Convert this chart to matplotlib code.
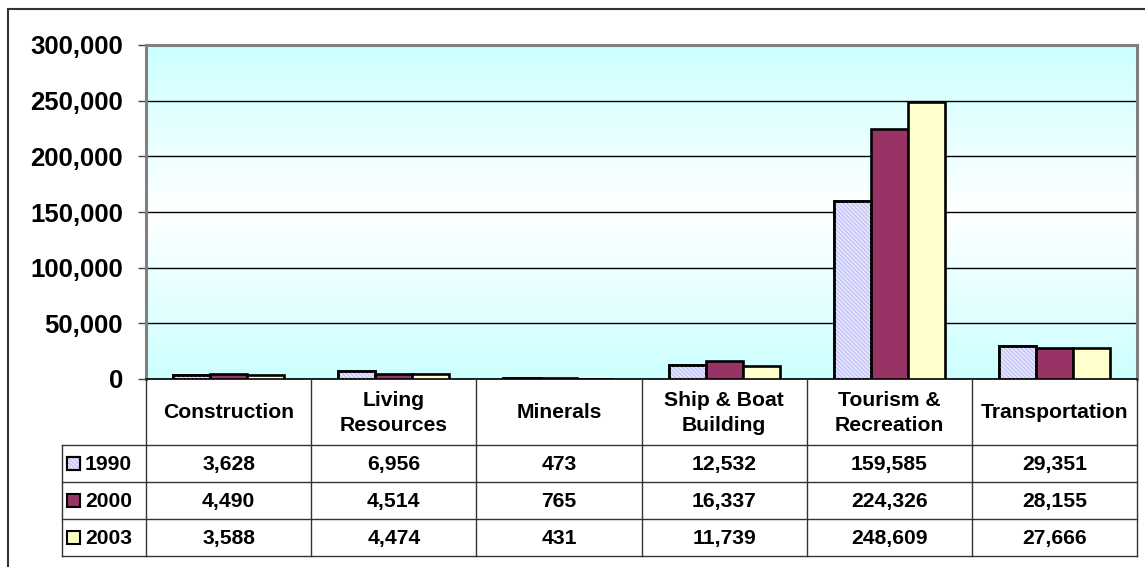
import numpy as np
import matplotlib
matplotlib.use("Agg")
import matplotlib.pyplot as plt
from matplotlib.patches import Rectangle
from matplotlib.lines import Line2D

plt.rcParams['font.family'] = ['Liberation Sans', 'DejaVu Sans']
plt.rcParams['font.weight'] = 'bold'
plt.rcParams['hatch.linewidth'] = 0.7

categories = ["Construction", "Living\nResources", "Minerals", "Ship & Boat\nBuilding",
              "Tourism &\nRecreation", "Transportation"]
series_names = ["1990", "2000", "2003"]
v1990 = [3628, 6956, 473, 12532, 159585, 29351]
v2000 = [4490, 4514, 765, 16337, 224326, 28155]
v2003 = [3588, 4474, 431, 11739, 248609, 27666]
yticks = [0, 50000, 100000, 150000, 200000, 250000, 300000]

series = [v1990, v2000, v2003]
face = ['#c8c8f8', '#993366', '#ffffcc']
hatches = ['\\' * 8, None, None]

W, H = 1145, 567
fig = plt.figure(figsize=(W / 100, H / 100), dpi=100)

# plot area in pixel coords
L, R, T, B = 146, 1137, 45, 379
ax = fig.add_axes([L / W, 1 - B / H, (R - L) / W, (B - T) / H])

# gradient background (cyan - white - cyan)
t = np.linspace(0, 1, 256)[:, None]
w = 1 - np.abs(2 * t - 1)
cyan = np.array([0.80, 1.0, 1.0])
img = cyan[None, None, :] + (1 - cyan[None, None, :]) * w[:, :, None]
img = np.repeat(img, 2, axis=1)
ax.imshow(img, extent=[0, 1, 0, 1], transform=ax.transAxes, aspect='auto',
          origin='lower', zorder=0)

n = len(categories)
x = np.arange(n)
bw = 0.224
for k, vals in enumerate(series):
    pos = x + (k - 1) * bw
    ax.bar(pos, vals, width=bw, color=face[k], edgecolor='black', linewidth=1.9,
           zorder=3)
    if hatches[k]:
        ax.bar(pos, vals, width=bw, color='none', edgecolor='#f4f4ff',
               hatch=hatches[k], linewidth=0, zorder=3.5)
        ax.bar(pos, vals, width=bw, color='none', edgecolor='black',
               linewidth=1.9, zorder=3.6)

ax.set_xlim(-0.5, n - 0.5)
ax.set_ylim(0, 300000)
ax.set_yticks(yticks)
ax.set_yticklabels([f"{v:,}" for v in yticks], fontsize=18.5, fontweight='bold')
ax.set_xticks([])
ax.yaxis.grid(True, color='black', linewidth=1.0, zorder=1)
ax.set_axisbelow(True)
ax.tick_params(axis='y', length=6, width=1, pad=10.5, color='#444444')
for s in ['left', 'top', 'right']:
    ax.spines[s].set_color('#808080')
    ax.spines[s].set_linewidth(2.2)
ax.spines['bottom'].set_color('black')
ax.spines['bottom'].set_linewidth(1.2)

# overlay axes for table and frame (pixel coordinates)
ov = fig.add_axes([0, 0, 1, 1], zorder=5)
ov.set_xlim(0, W)
ov.set_ylim(H, 0)
ov.axis('off')
ov.patch.set_alpha(0)

def line(x0, y0, x1, y1, c='black', lw=1.0):
    ov.add_line(Line2D([x0, x1], [y0, y1], color=c, linewidth=lw))

# outer frame
line(8, 9, 8, H + 5, c='#333333', lw=1.5)
line(8, 9, W + 5, 9, c='#333333', lw=1.5)

col_w = (R - L) / n
hdr_top, hdr_bot = B, 445
row_y = [445, 482, 519, 556]
leg_left = 62
fs = 15.2

# header cells
for i in range(n + 1):
    xx = L + i * col_w
    line(xx, hdr_top, xx, row_y[-1], c='#333333', lw=1.0)
for i, c in enumerate(categories):
    ov.text(L + (i + 0.5) * col_w, (hdr_top + hdr_bot) / 2 + 1, c, ha='center',
            va='center', fontsize=fs, fontweight='bold', linespacing=1.45)
# horizontal row lines
for yy in row_y:
    line(leg_left, yy, R, yy, c='#333333', lw=1.0)
line(leg_left, row_y[0], leg_left, row_y[-1], c='#333333', lw=1.0)

for k, vals in enumerate(series):
    yc = (row_y[k] + row_y[k + 1]) / 2
    # legend key
    ov.add_patch(Rectangle((67, yc - 6.5), 13, 13, facecolor=face[k],
                           edgecolor='black', linewidth=1.5))
    if hatches[k]:
        ov.add_patch(Rectangle((67, yc - 6.5), 13, 13, facecolor='none',
                               edgecolor='#f4f4ff', hatch=hatches[k], linewidth=0))
        ov.add_patch(Rectangle((67, yc - 6.5), 13, 13, facecolor='none',
                               edgecolor='black', linewidth=1.5))
    ov.text(85, yc + 1, series_names[k], ha='left', va='center', fontsize=fs,
            fontweight='bold')
    for i, v in enumerate(vals):
        ov.text(L + (i + 0.5) * col_w, yc + 1, f"{v:,}", ha='center', va='center',
                fontsize=fs, fontweight='bold')

fig.savefig('out.png', dpi=100)
